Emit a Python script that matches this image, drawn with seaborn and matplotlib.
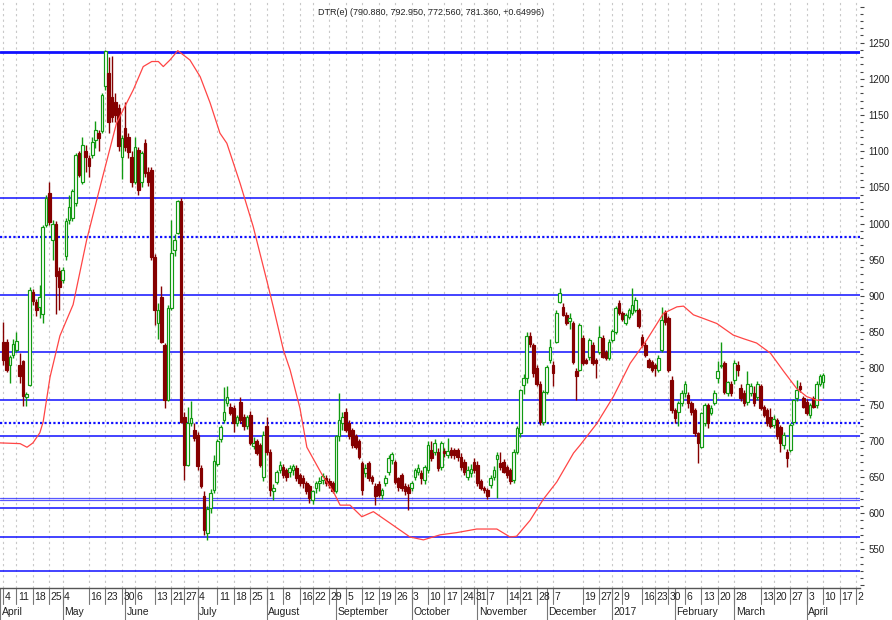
import numpy as np
import pandas as pd
import matplotlib
matplotlib.use("Agg")
import matplotlib.pyplot as plt
import matplotlib.transforms as mtransforms
from matplotlib.ticker import MultipleLocator, FuncFormatter
import seaborn as sns

# ---- data ----
title = "DTR(e) (790.880, 792.950, 772.560, 781.360, +0.64996)"

opens = [
    837, 837, 804, 818, 826, 805, 810, 760, 777, 905,
    892, 885, 875, 998, 1042, 978, 1000, 935, 922, 955,
    1005, 1008, 1028, 1097, 1058, 1100, 1090, 1095, 1115, 1125,
    1128, 1190, 1208, 1175, 1168, 1160, 1092, 1132, 1120, 1092,
    1058, 1102, 1058, 1111, 1072, 1074, 954, 862, 899, 832,
    756, 883, 963, 987, 1031, 733, 667, 724, 715, 708,
    663, 623, 573, 607, 632, 668, 702, 729, 752, 747,
    745, 724, 754, 733, 720, 736, 693, 699, 694, 650,
    720, 685, 630, 643, 659, 664, 660, 657, 660, 663,
    653, 648, 641, 638, 618, 635, 641, 646, 648, 645,
    641, 630, 706, 725, 740, 725, 715, 706, 699, 669,
    655, 669, 650, 638, 640, 625, 641, 657, 673, 671,
    648, 652, 638, 636, 635, 650, 657, 655, 646, 659,
    687, 685, 685, 664, 686, 680, 687, 687, 687, 678,
    671, 650, 655, 671, 666, 644, 635, 632, 639, 650,
    675, 669, 671, 664, 659, 646, 685, 710, 777, 787,
    845, 832, 800, 779, 726, 768, 811, 805, 837, 892,
    885, 874, 866, 862, 796, 798, 842, 812, 816, 832,
    812, 823, 842, 823, 815, 839, 850, 890, 876, 862,
    871, 876, 880, 880, 844, 832, 811, 809, 805, 798,
    825, 878, 869, 784, 742, 740, 752, 766, 763, 752,
    742, 710, 692, 724, 749, 738, 752, 786, 803, 807,
    766, 779, 784, 805, 773, 766, 754, 766, 766, 761,
    775, 747, 742, 733, 722, 728, 719, 694, 685, 687,
    726, 759, 775, 759, 754, 736, 759, 749, 779, 781,
]
highs = [
    864, 840, 818, 840, 850, 821, 812, 768, 912, 910,
    896, 915, 998, 1040, 1058, 1005, 1003, 940, 940, 1008,
    1040, 1048, 1098, 1100, 1120, 1108, 1095, 1120, 1142, 1130,
    1180, 1240, 1230, 1232, 1180, 1165, 1122, 1168, 1125, 1100,
    1120, 1106, 1100, 1117, 1078, 1078, 958, 890, 914, 835,
    888, 1005, 985, 1033, 1035, 740, 747, 755, 725, 712,
    667, 630, 610, 633, 680, 703, 722, 774, 775, 752,
    750, 736, 761, 737, 736, 741, 705, 702, 697, 713,
    733, 688, 640, 660, 672, 668, 663, 666, 668, 666,
    656, 652, 645, 640, 632, 645, 650, 655, 652, 648,
    644, 708, 766, 740, 745, 728, 718, 709, 702, 672,
    668, 672, 652, 642, 645, 635, 652, 680, 685, 674,
    650, 655, 642, 640, 645, 662, 668, 660, 666, 700,
    700, 702, 690, 700, 690, 704, 692, 690, 690, 683,
    675, 665, 668, 676, 672, 647, 638, 634, 652, 665,
    685, 685, 675, 667, 662, 688, 720, 772, 792, 850,
    850, 835, 805, 782, 770, 805, 840, 810, 880, 911,
    890, 878, 876, 866, 800, 862, 846, 815, 842, 836,
    815, 858, 846, 826, 840, 855, 886, 895, 879, 877,
    884, 911, 898, 884, 848, 836, 815, 812, 808, 818,
    885, 880, 872, 790, 745, 755, 770, 782, 768, 755,
    745, 712, 740, 752, 752, 750, 770, 810, 837, 810,
    783, 782, 812, 810, 778, 770, 796, 780, 775, 782,
    778, 750, 745, 745, 735, 731, 722, 712, 688, 725,
    758, 784, 781, 762, 757, 752, 762, 782, 792, 793,
]
lows = [
    805, 795, 780, 815, 822, 780, 748, 748, 776, 888,
    872, 870, 862, 995, 998, 950, 875, 880, 918, 950,
    1000, 1003, 1025, 1065, 1055, 1072, 1064, 1090, 1105, 1100,
    1125, 1185, 1125, 1140, 1140, 1100, 1062, 1100, 1090, 1050,
    1055, 1040, 1050, 1065, 1052, 950, 860, 840, 835, 745,
    755, 880, 955, 985, 724, 646, 665, 720, 700, 660,
    635, 570, 563, 600, 628, 665, 698, 725, 748, 735,
    712, 720, 725, 715, 716, 694, 688, 680, 664, 645,
    680, 623, 618, 640, 655, 648, 645, 650, 652, 645,
    638, 635, 626, 614, 613, 628, 630, 640, 638, 634,
    628, 628, 700, 715, 712, 702, 690, 688, 675, 625,
    650, 645, 640, 611, 622, 620, 638, 652, 668, 640,
    630, 630, 625, 604, 630, 646, 652, 640, 640, 655,
    672, 680, 658, 660, 678, 676, 676, 675, 672, 660,
    652, 646, 650, 655, 638, 632, 628, 620, 635, 646,
    621, 660, 655, 648, 640, 642, 682, 705, 765, 780,
    830, 788, 775, 722, 722, 765, 808, 775, 835, 890,
    872, 860, 855, 806, 756, 796, 805, 806, 812, 805,
    787, 820, 814, 812, 812, 836, 848, 874, 866, 860,
    868, 874, 878, 856, 830, 816, 800, 795, 790, 795,
    822, 860, 795, 738, 724, 720, 748, 760, 745, 736,
    706, 669, 690, 720, 718, 735, 750, 780, 800, 765,
    762, 762, 778, 790, 755, 748, 750, 762, 748, 756,
    742, 733, 720, 718, 718, 703, 685, 688, 664, 684,
    722, 755, 768, 745, 735, 732, 745, 745, 776, 773,
]
closes = [
    812, 798, 816, 833, 838, 790, 762, 764, 908, 893,
    880, 899, 995, 1035, 1002, 1000, 928, 912, 936, 1003,
    1023, 1045, 1095, 1067, 1108, 1092, 1080, 1113, 1130, 1118,
    1178, 1238, 1140, 1148, 1150, 1107, 1118, 1106, 1099, 1058,
    1106, 1046, 1097, 1070, 1058, 954, 881, 881, 837, 756,
    883, 959, 977, 1031, 726, 667, 724, 731, 704, 665,
    638, 576, 605, 628, 672, 700, 719, 740, 760, 738,
    724, 733, 729, 720, 733, 697, 697, 683, 667, 708,
    685, 632, 635, 657, 666, 652, 650, 662, 665, 648,
    641, 641, 630, 621, 630, 641, 645, 651, 641, 639,
    630, 706, 729, 733, 715, 706, 694, 692, 678, 632,
    662, 648, 645, 624, 625, 632, 648, 676, 681, 643,
    636, 634, 630, 628, 641, 659, 662, 648, 664, 694,
    676, 697, 662, 697, 683, 686, 680, 680, 678, 664,
    657, 659, 661, 659, 641, 635, 632, 623, 648, 660,
    680, 664, 657, 652, 645, 685, 717, 770, 787, 845,
    833, 793, 779, 726, 768, 802, 830, 793, 877, 904,
    874, 862, 870, 809, 789, 860, 807, 808, 839, 807,
    808, 844, 816, 815, 837, 851, 883, 876, 868, 874,
    881, 887, 894, 858, 832, 818, 802, 798, 800, 815,
    867, 864, 798, 742, 731, 752, 766, 779, 752, 740,
    710, 697, 738, 749, 724, 745, 766, 796, 805, 768,
    781, 766, 807, 798, 759, 752, 779, 775, 752, 779,
    745, 736, 724, 721, 730, 706, 697, 708, 676, 722,
    756, 770, 771, 747, 738, 749, 747, 779, 789, 791,
]

# red smoothing curve: (bar position, value)
curve_pos = [-1.0, 5.1, 7.2, 9.0, 11.1, 12.1, 14.2, 17.2, 21.2, 25.3,
             29.4, 34.4, 39.5, 42.5, 45.1, 47.1, 48.6, 50.6, 53.0, 56.7,
             59.8, 62.8, 65.8, 67.9, 71.9, 75.9, 80.0, 82.0, 85.1, 87.1,
             90.1, 92.2, 97.2, 100.2, 102.3, 105.3, 108.9, 112.4, 117.5, 123.5,
             127.6, 132.7, 137.7, 143.8, 149.9, 153.9, 155.9, 160.0, 164.0, 168.1,
             173.2, 175.2, 180.3, 185.3, 190.4, 195.4, 200.5, 204.6, 206.6, 209.6,
             212.6, 216.7, 221.7, 224.8, 228.8, 233.0, 237.0, 241.0, 244.0, 247.1,
             248.6]
curve_val = [697, 696, 691, 697, 711, 726, 788, 845, 888, 977,
             1051, 1139, 1185, 1217, 1224, 1224, 1217, 1226, 1239, 1226,
             1203, 1167, 1125, 1111, 1056, 996, 922, 885, 825, 798,
             745, 691, 650, 630, 611, 611, 595, 602, 586, 567,
             563, 570, 573, 578, 578, 567, 568, 590, 619, 643,
             683, 694, 724, 761, 807, 839, 876, 885, 886, 874,
             869, 862, 846, 841, 835, 821, 796, 772, 761, 756,
             756]

# horizontal support / resistance levels
levels_solid = [1035, 902, 822, 756, 707, 606.6, 566.6, 519.6]
levels_dotted = [981.5, 724.5]
levels_thick = [1237]
levels_faint = [620.5, 617.5]

# x-axis: first bar of each week, and first bar of each month
week_pos = [0, 4, 9, 14, 18, 26, 31, 36, 40, 46, 51, 55, 59, 65, 70, 75,
            80, 85, 90, 94, 99, 104, 109, 114, 119, 124, 129, 134, 139, 143,
            147, 153, 157, 162, 167, 176, 181, 185, 188, 194, 198, 202, 207,
            212, 217, 222, 230, 234, 239, 244, 249, 254, 259]
week_labels = ["4", "11", "18", "25", "4", "16", "23", "30", "6", "13", "21",
               "27", "4", "11", "18", "25", "1", "8", "16", "22", "29", "5",
               "12", "19", "26", "3", "10", "17", "24", "31", "7", "14", "21",
               "28", "7", "19", "27", "2", "9", "16", "23", "30", "6", "13",
               "20", "28", "13", "20", "27", "3", "10", "17", "2"]
month_pos = [-1.0, 18, 37, 59, 80, 101, 124, 144, 165, 185, 204, 222, 244]
month_labels = ["April", "May", "June", "July", "August", "September",
                "October", "November", "December", "2017", "February",
                "March", "April"]

# ---- styling ----
sns.set_style("white")
plt.rcParams["font.family"] = ["Liberation Sans", "DejaVu Sans"]

GREEN = "#119a11"
RED = "#850000"
BLUE = "#1010ff"
CURVE = "#ff4545"

df = pd.DataFrame({"open": opens, "high": highs, "low": lows, "close": closes})
df["pos"] = np.arange(len(df))
df["up"] = df["close"] >= df["open"]

fig = plt.figure(figsize=(8.92, 6.2), dpi=100)
ax = fig.add_axes([0, 32 / 620, 860 / 892, 588 / 620])

# weekly grid
ax.set_xticks(week_pos)
ax.grid(axis="x", color="#c8c8c8", linestyle=(0, (2, 3)), linewidth=0.8)
ax.grid(axis="y", visible=False)
ax.tick_params(axis="x", length=0, labelbottom=False)

# levels
for lv in levels_solid:
    ax.axhline(lv, color=BLUE, lw=1.1, zorder=1)
for lv in levels_dotted:
    ax.axhline(lv, color=BLUE, lw=1.6, ls=(0, (1, 1)), zorder=1)
for lv in levels_thick:
    ax.axhline(lv, color=BLUE, lw=2.0, zorder=1)
for lv in levels_faint:
    ax.axhline(lv, color=BLUE, lw=0.9, alpha=0.7, zorder=1)

# candles
wick_colors = np.where(df["up"], GREEN, RED)
ax.vlines(df["pos"], df["low"], df["high"], colors=wick_colors, lw=1.0, zorder=2)
body_low = df[["open", "close"]].min(axis=1)
body_h = (df["close"] - df["open"]).abs().clip(lower=1.5)
ax.bar(df["pos"], body_h, bottom=body_low, width=0.8,
       color=np.where(df["up"], "white", RED),
       edgecolor=wick_colors, linewidth=0.85, zorder=3)

# smoothing curve
sns.lineplot(x=curve_pos, y=curve_val, ax=ax, color=CURVE, lw=0.9,
             sort=False, estimator=None, zorder=4)

ax.set_xlim(-1.0, 260.2)
ax.set_ylim(496.5, 1309)

# right price axis
ax.yaxis.tick_right()
ax.set_yticks(np.arange(500, 1301, 50))
ax.yaxis.set_minor_locator(MultipleLocator(10))
ax.yaxis.set_major_formatter(FuncFormatter(lambda v, p: f"{v:.0f}" if 550 <= v <= 1250 else ""))
ax.tick_params(axis="y", which="major", length=3, width=0.8, color="#444",
               pad=3, labelsize=7, labelcolor="#222")
ax.tick_params(axis="y", which="minor", length=2, width=0.8, color="#444")
ax.set_ylabel("")
ax.set_xlabel("")

for side in ["left", "top", "right"]:
    ax.spines[side].set_visible(False)
ax.spines["bottom"].set_color("#555")
ax.spines["bottom"].set_linewidth(1.0)

# date strip under the plot
xt = ax.get_xaxis_transform()
lab_tr = mtransforms.offset_copy(xt, fig=fig, x=1.5, y=0, units="dots")
for p, lab in zip(week_pos, week_labels):
    ax.plot([p, p], [0, -0.028], transform=xt, color="#777", lw=0.8, clip_on=False)
    ax.text(p, -0.0155, lab, transform=lab_tr, ha="left", va="center",
            fontsize=7.5, color="#222", clip_on=False)
for p, lab in zip(month_pos, month_labels):
    ax.plot([p, p], [0, -0.056], transform=xt, color="#777", lw=0.8, clip_on=False)
    ax.text(p, -0.041, lab, transform=lab_tr, ha="left", va="center",
            fontsize=7.5, color="#222", clip_on=False)

fig.text(0.483, 0.980, title, ha="center", va="center", fontsize=6.5, color="#222")

fig.savefig("out.png", dpi=100)
